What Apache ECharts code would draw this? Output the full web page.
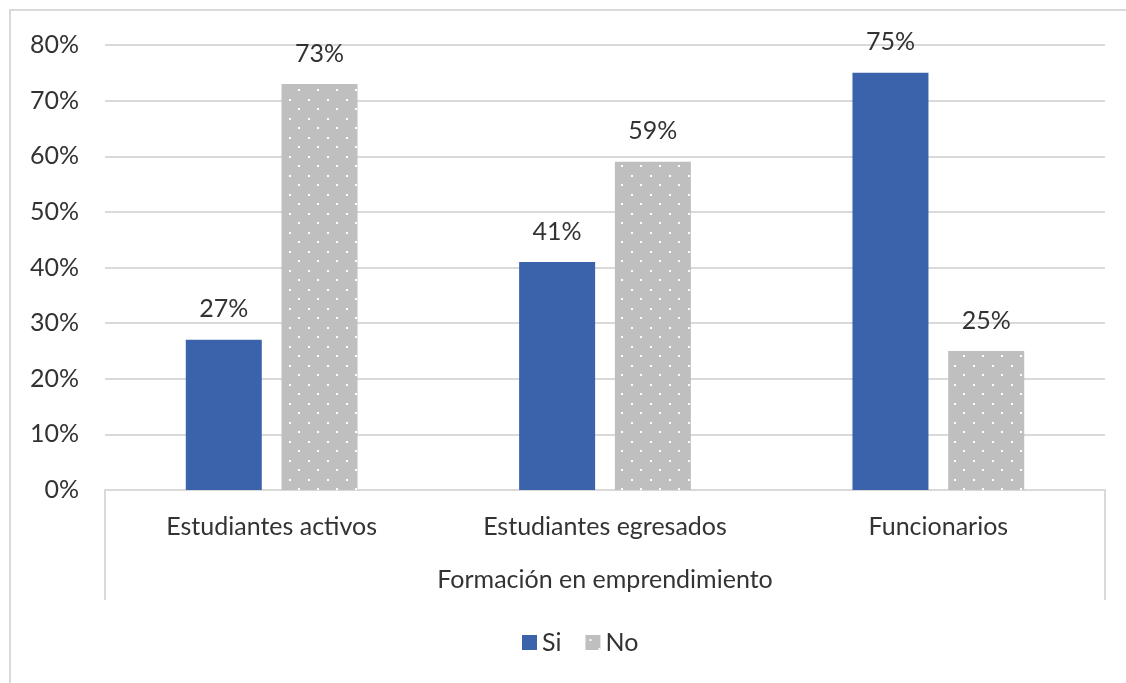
<!DOCTYPE html>
<html>
<head>
<meta charset="utf-8">
<script src="https://cdn.jsdelivr.net/npm/echarts@6/dist/echarts.min.js"></script>
<style>
html,body{margin:0;padding:0;background:#fff;}
#chart{width:1126px;height:683px;}
</style>
</head>
<body>
<div id="chart"></div>
<script>
const categories = ['Estudiantes activos', 'Estudiantes egresados', 'Funcionarios'];
const siValues = [27, 41, 75];
const noValues = [73, 59, 25];
const yTicks = [0, 10, 20, 30, 40, 50, 60, 70, 80];
const axisTitle = 'Formación en emprendimiento';
const seriesNames = ['Si', 'No'];

const FONT = 'Lato';
const FS = 25;
const TXT = '#333333';
const G = {left: 105, right: 21, top: 45, bottom: 193};

function dotPattern() {
  const c = document.createElement('canvas');
  c.width = 19; c.height = 19;
  const ctx = c.getContext('2d');
  ctx.fillStyle = '#bfbfbf';
  ctx.fillRect(0, 0, 19, 19);
  ctx.fillStyle = '#ffffff';
  ctx.fillRect(4, 4, 2, 2);
  ctx.fillRect(13, 13, 2, 2);
  return c;
}

const chart = echarts.init(document.getElementById('chart'), null, {renderer: 'canvas'});
const W = 1126, H = 683;
chart.setOption({
  animation: false,
  backgroundColor: '#fff',
  textStyle: {fontFamily: FONT},
  grid: G,
  legend: {
    data: seriesNames,
    icon: 'rect',
    left: 517, top: 625,
    itemWidth: 15, itemHeight: 15, itemGap: 24, itemTextGap: 5,
    textStyle: {fontFamily: FONT, fontSize: FS, color: TXT}
  },
  xAxis: {
    type: 'category',
    data: categories,
    axisLine: {show: true, lineStyle: {color: '#d9d9d9', width: 2}},
    axisTick: {show: false},
    axisLabel: {fontFamily: FONT, fontSize: FS, color: TXT, margin: 24},
    name: axisTitle,
    nameLocation: 'middle',
    nameGap: 77,
    nameTextStyle: {fontFamily: FONT, fontSize: FS, color: TXT}
  },
  yAxis: {
    type: 'value',
    min: 0, max: 80, interval: 10,
    axisLine: {show: false},
    axisTick: {show: false},
    splitLine: {lineStyle: {color: '#d9d9d9', width: 2}},
    axisLabel: {fontFamily: FONT, fontSize: FS, color: TXT, margin: 26,
      formatter: v => yTicks.includes(v) ? v + '%' : ''}
  },
  series: [
    {
      name: seriesNames[0], type: 'bar', data: siValues,
      barWidth: 76, barGap: '26%',
      itemStyle: {color: '#3a63ab'},
      label: {show: true, position: 'top', distance: 18, formatter: p => p.value + '%',
        fontFamily: FONT, fontSize: FS, color: TXT}
    },
    {
      name: seriesNames[1], type: 'bar', data: noValues,
      barWidth: 76, barGap: '26%',
      itemStyle: {color: {image: dotPattern(), repeat: 'repeat'}},
      label: {show: true, position: 'top', distance: 18, formatter: p => p.value + '%',
        fontFamily: FONT, fontSize: FS, color: TXT}
    }
  ],
  graphic: [
    {type: 'rect', shape: {x: 10, y: 10, width: W, height: H}, style: {fill: 'none', stroke: '#d9d9d9', lineWidth: 2}, silent: true},
    {type: 'line', shape: {x1: G.left, y1: H - G.bottom, x2: G.left, y2: 600}, style: {stroke: '#d9d9d9', lineWidth: 2}},
    {type: 'line', shape: {x1: W - G.right, y1: H - G.bottom, x2: W - G.right, y2: 600}, style: {stroke: '#d9d9d9', lineWidth: 2}}
  ]
});
</script>
</body>
</html>
